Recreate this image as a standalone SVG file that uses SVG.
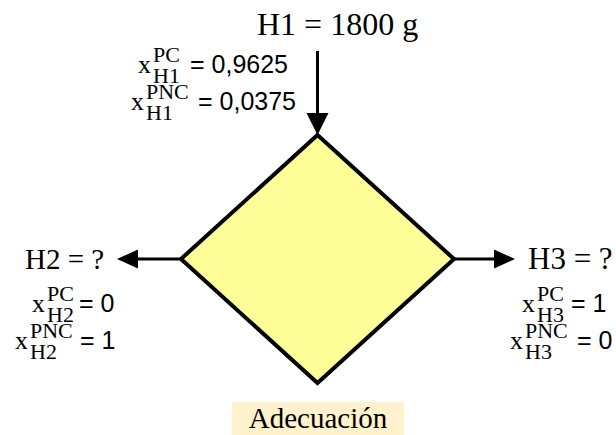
<svg xmlns="http://www.w3.org/2000/svg" width="616" height="435" viewBox="0 0 616 435">
<defs>
<style>
.t{font-family:"Liberation Serif","Times New Roman",serif;font-size:29px;fill:#000}
.mx{font-family:"Liberation Serif","DejaVu Serif",serif;font-size:26px;fill:#000}
.ms{font-family:"Liberation Serif","DejaVu Serif",serif;font-size:22px;fill:#000}
.v{font-family:"Liberation Sans",Arial,sans-serif;font-size:25px;fill:#000}
.ln{stroke:#000;stroke-width:3;fill:none}
.ah{fill:#000}
</style>
</defs>
<rect width="616" height="435" fill="#fff"/>
<g id="connectors">
<line class="ln" x1="317.5" y1="51" x2="317.5" y2="116"/>
<polygon class="ah" points="306.5,113 328.5,113 317.5,135"/>
<line class="ln" x1="181" y1="259" x2="136" y2="259"/>
<polygon class="ah" points="138,249.5 138,268.5 117,259"/>
<line class="ln" x1="454" y1="259" x2="496" y2="259"/>
<polygon class="ah" points="494,249.5 494,268.5 515,259"/>
</g>
<g id="node-adecuacion">
<polygon points="317.5,135 454,259 317.5,383 181,259" fill="#FFFF99" stroke="#000" stroke-width="4" stroke-linejoin="miter"/>
</g>
<g id="label-adecuacion">
<rect x="232" y="402" width="172" height="33" fill="#FFF2CC"/>
<text class="t" x="318" y="428" text-anchor="middle">Adecuación</text>
</g>
<g id="node-h1">
<text class="t" x="257" y="35" style="font-size:32px">H1 = 1800 g</text>
<text class="mx" x="138" y="73">x</text>
<text class="ms" x="153" y="62">PC</text>
<text class="ms" x="153" y="83">H1</text>
<text class="v" x="190" y="73">= 0,9625</text>
<text class="mx" x="131" y="110">x</text>
<text class="ms" x="146" y="99">PNC</text>
<text class="ms" x="146" y="120">H1</text>
<text class="v" x="198" y="110">= 0,0375</text>
</g>
<g id="node-h2">
<text class="t" x="25" y="269">H2 = ?</text>
<text class="mx" x="32" y="312">x</text>
<text class="ms" x="47" y="301">PC</text>
<text class="ms" x="47" y="322">H2</text>
<text class="v" x="79" y="312">= 0</text>
<text class="mx" x="15" y="349">x</text>
<text class="ms" x="30" y="338">PNC</text>
<text class="ms" x="30" y="359">H2</text>
<text class="v" x="80" y="349">= 1</text>
</g>
<g id="node-h3">
<text class="t" x="528" y="269" style="font-size:31px">H3 = ?</text>
<text class="mx" x="522" y="312">x</text>
<text class="ms" x="537" y="301">PC</text>
<text class="ms" x="537" y="322">H3</text>
<text class="v" x="571" y="312">= 1</text>
<text class="mx" x="510" y="349">x</text>
<text class="ms" x="525" y="338">PNC</text>
<text class="ms" x="525" y="359">H3</text>
<text class="v" x="577" y="349">= 0</text>
</g>
</svg>
